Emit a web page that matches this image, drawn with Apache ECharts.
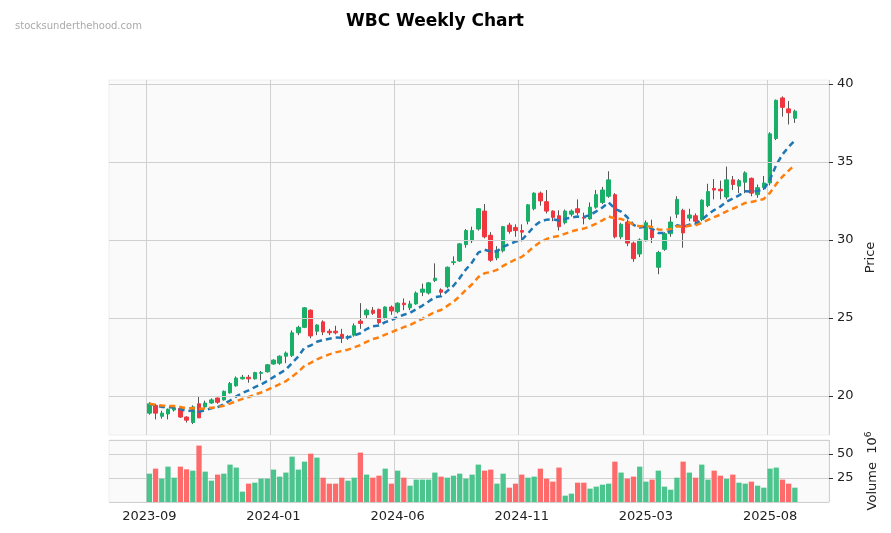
<!DOCTYPE html>
<html><head><meta charset="utf-8">
<script src="https://cdn.jsdelivr.net/npm/echarts@6/dist/echarts.min.js"></script>
<style>html,body{margin:0;padding:0;background:#fff}#c{width:891px;height:533px}</style>
</head><body><div id="c"></div>
<script>
// OHLC per week
const opens  = [18.9,19.4,18.7,18.85,19.1,19.2,18.65,18.3,19.5,19.3,19.55,19.87,19.75,20.2,20.65,21.1,21.2,21.1,21.45,21.55,
22.05,22.1,22.55,22.6,24.05,24.4,25.5,24.15,24.75,24.15,24.15,23.95,23.75,23.9,24.8,25.2,25.5,25.55,25.0,25.7,
25.4,25.95,25.65,25.9,26.65,26.6,27.4,26.8,27.0,28.55,28.65,29.7,29.95,30.7,31.85,30.3,28.85,29.3,30.95,30.8,
30.6,31.2,32.0,33.0,32.45,31.85,31.55,31.1,31.65,32.0,31.45,31.35,32.1,32.4,32.8,32.9,30.2,31.15,29.8,29.1,
29.95,30.65,28.25,29.4,30.4,31.65,31.9,31.4,31.55,31.3,32.2,33.3,33.25,32.75,33.85,33.45,33.7,33.95,32.9,33.35,
33.65,36.5,39.1,38.4,37.8];
const closes = [19.5,18.9,18.9,19.15,19.25,18.65,18.45,19.3,18.6,19.55,19.75,19.6,20.3,20.8,21.15,21.2,21.1,21.5,21.5,22.0,
22.3,22.55,22.75,24.05,24.4,25.65,23.85,24.55,24.1,24.05,24.05,23.7,23.8,24.5,24.65,25.5,25.3,24.7,25.7,25.45,
25.95,25.85,25.9,26.6,26.85,27.25,27.55,26.65,28.25,28.6,29.75,30.6,30.6,32.0,30.2,28.7,29.35,30.85,30.55,30.6,
30.5,32.25,33.0,32.5,31.85,31.45,30.85,31.85,31.85,31.75,31.4,32.1,32.9,33.2,33.85,30.2,31.0,29.8,28.8,30.0,
31.1,30.15,29.2,30.4,31.15,32.6,30.45,31.6,31.2,32.55,33.1,33.2,33.15,33.85,33.55,33.8,34.3,33.0,33.35,33.65,
36.8,38.95,38.5,38.15,38.25];
const highs  = [19.6,19.5,19.05,19.2,19.35,19.25,18.7,19.4,19.95,19.7,19.85,19.9,20.35,20.9,21.25,21.35,21.35,21.55,21.6,22.05,
22.35,22.6,22.85,24.2,24.5,25.7,25.55,24.6,24.85,24.3,24.5,24.3,23.9,24.65,25.95,25.6,25.7,25.6,25.75,25.8,
26.0,26.25,26.1,26.7,27.2,27.3,28.5,26.9,28.3,28.95,29.8,30.7,30.85,32.05,32.3,30.5,29.6,30.9,31.1,31.0,
31.0,32.3,33.05,33.1,33.2,31.9,31.9,31.95,31.95,32.6,31.75,32.4,33.2,33.4,34.4,33.0,31.1,31.3,29.9,30.1,
31.25,31.3,29.3,30.5,31.5,32.8,32.0,32.0,31.7,32.6,33.6,33.9,33.8,34.7,34.1,33.9,34.4,34.0,33.55,34.1,
36.9,39.0,39.2,38.9,38.35];
const lows   = [18.8,18.5,18.55,18.5,19.0,18.6,18.3,18.2,18.6,19.2,19.5,19.5,19.7,20.15,20.6,21.05,20.85,21.05,21.0,21.5,
22.0,22.0,22.1,22.5,23.9,24.35,23.7,23.9,23.9,23.9,23.95,23.4,23.6,23.8,24.3,25.0,25.2,24.6,24.9,25.2,
25.3,25.5,25.5,25.85,26.4,26.5,27.3,26.4,26.9,28.4,28.6,29.5,29.8,30.6,30.1,28.6,28.7,29.2,30.4,30.2,
29.9,31.0,31.9,32.2,31.7,31.2,30.6,31.0,31.5,31.6,31.0,31.3,32.0,32.3,32.7,30.1,30.05,29.6,28.6,28.9,
29.9,29.8,27.8,29.3,30.2,31.4,29.5,31.2,31.0,31.2,32.1,32.6,32.6,32.6,33.2,33.0,33.0,32.8,32.7,33.2,
33.5,36.4,37.9,37.4,37.5];
// volume in millions
const volumes = [29.5,34.7,24.3,36.8,25.3,36.8,34,32.6,58.7,31.6,22.2,28.5,29.5,38.9,35.8,10.8,19.1,20.1,24.3,24.3,
33.7,26.4,30.6,47.2,33.7,42,50.3,46.2,25.3,19.1,19.1,25.3,22.2,25.3,51.4,28.5,25.3,27.4,34.7,19.1,
32.6,25.3,17,23.3,23.3,23.3,30.6,26.4,25.3,27.4,29.5,24.3,28.5,38.9,32.6,33.7,19.1,29.5,14.9,19.1,
28.5,25.3,26.4,34.7,24.3,21.2,35.8,6.6,8.7,20.1,20.1,13.9,16,18,19.1,42,30.6,24.3,26.4,36.8,
21.2,23.3,32.6,16,12.8,25.3,42,30.6,25.3,38.9,23.3,32.6,27.4,24,28.5,20.1,19.1,21.2,17,14.9,
34.7,35.8,23.3,19.1,14.9];
const tickLabels = ['2023-09','2024-01','2024-06','2024-11','2025-03','2025-08'];
const tickEvery = 20;
const PAD_L = 6, PAD_R = 5;

const N = closes.length;
function ema(p){const a=2/(p+1);let e=closes[0];return closes.map(c=>{e=a*c+(1-a)*e;return +e.toFixed(3);});}
const ma10 = ema(10), ma20 = ema(20);
const pad = a => Array(PAD_L).fill('-').concat(a, Array(PAD_R).fill('-'));
const cats = [];
for(let i=0;i<PAD_L+N+PAD_R;i++){const k=i-PAD_L;cats.push(k>=0&&k<N&&k%tickEvery===0?tickLabels[k/tickEvery]:'');}
const isTick = i => { const k=i-PAD_L; return k>=0 && k<N && k%tickEvery===0; };
const UP='#1aaf68', DN='#f0363e', UPV='#4cc48d', DNV='#ff6b6b';
const wick = pad(closes.map((c,i)=>[opens[i],closes[i],lows[i],highs[i]]));
const body = pad(closes.map((c,i)=>[opens[i],closes[i],Math.min(opens[i],c),Math.max(opens[i],c)]));
const vol = pad(volumes.map((v,i)=>({value:v,itemStyle:{color:closes[i]>=opens[i]?UPV:DNV}})));

const xCommon = {type:'category',data:cats,boundaryGap:true,
  axisTick:{show:false},axisLine:{show:false},
  splitLine:{show:true,interval:(i)=>isTick(i),lineStyle:{color:'#d0d0d0'}}};
const chart = echarts.init(document.getElementById('c'));
chart.setOption({
  animation:false,
  textStyle:{fontFamily:'DejaVu Sans'},
  title:[{text:'WBC Weekly Chart',left:430,textAlign:'center',top:8,textStyle:{fontSize:17,fontWeight:'bold',color:'#000',fontFamily:'DejaVu Sans'}},
         {text:'stocksunderthehood.com',left:10,top:16,textStyle:{fontSize:10,fontWeight:'normal',color:'#aaa',fontFamily:'DejaVu Sans'}}],
  grid:[{left:109,width:720,top:80,height:355,show:true,backgroundColor:'#fafafa',borderColor:'#eee'},
        {left:109,width:720,top:440,height:62,show:true,backgroundColor:'#fafafa',borderColor:'#eee'}],
  xAxis:[Object.assign({gridIndex:0,axisLabel:{show:false}},xCommon),
         Object.assign({gridIndex:1,axisLabel:{show:true,interval:(i)=>isTick(i),color:'#222',fontSize:13,margin:8}},xCommon)],
  yAxis:[{gridIndex:0,type:'value',position:'right',min:17.5,max:40.25,
          axisLine:{show:false},axisTick:{show:true,length:4,lineStyle:{color:'#333'},customValues:[20,25,30,35,40]},
          axisLabel:{color:'#222',fontSize:13,margin:8,customValues:[20,25,30,35,40]},splitLine:{show:false},
          name:'Price',nameLocation:'middle',nameGap:34,nameRotate:90,nameTextStyle:{fontSize:13,color:'#222'}},
         {gridIndex:1,type:'value',position:'right',min:0,max:64.5,interval:25,
          axisLine:{show:false},axisTick:{show:true,length:4,lineStyle:{color:'#333'}},
          axisLabel:{color:'#222',fontSize:13,margin:8,showMinLabel:false,showMaxLabel:false},
          splitLine:{show:true,lineStyle:{color:'#d0d0d0'}},
          name:'Volume  10{s|6}',nameLocation:'middle',nameGap:34,nameRotate:90,
          nameTextStyle:{fontSize:13,color:'#222',rich:{s:{fontSize:9,verticalAlign:'top',padding:[0,0,8,0]}}}}],
  series:[
    {type:'line',xAxisIndex:0,yAxisIndex:0,data:[],silent:true,
     markLine:{silent:true,symbol:'none',label:{show:false},lineStyle:{color:'#d0d0d0',type:'solid',width:1},
       data:[20,25,30,35,40].map(v=>({yAxis:v}))}},
    {type:'candlestick',xAxisIndex:0,yAxisIndex:0,data:wick,barWidth:1,
     itemStyle:{color:'#555',color0:'#555',borderColor:'#555',borderColor0:'#555',borderWidth:1}},
    {type:'candlestick',xAxisIndex:0,yAxisIndex:0,data:body,barWidth:4,
     itemStyle:{color:UP,color0:DN,borderColor:UP,borderColor0:DN,borderWidth:1}},
    {type:'line',xAxisIndex:0,yAxisIndex:0,data:pad(ma10),symbol:'none',
     lineStyle:{color:'#1f77b4',width:2.5,type:[6,4]}},
    {type:'line',xAxisIndex:0,yAxisIndex:0,data:pad(ma20),symbol:'none',
     lineStyle:{color:'#ff7f0e',width:2.5,type:[6,4]}},
    {type:'bar',xAxisIndex:1,yAxisIndex:1,data:vol,barWidth:'85%'}
  ]
});
</script></body></html>
